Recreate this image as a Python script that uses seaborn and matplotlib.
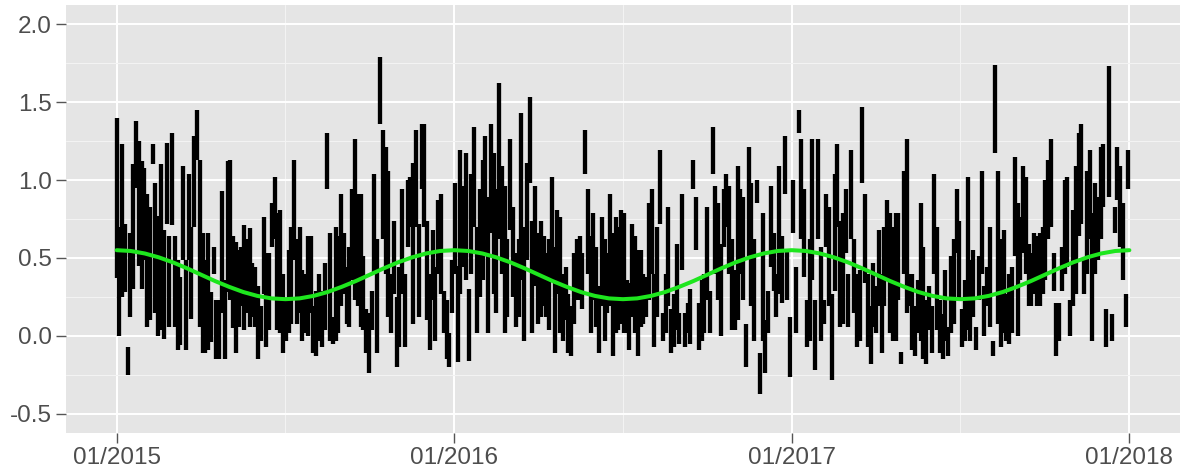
import numpy as np
import pandas as pd
import matplotlib
matplotlib.use("Agg")
import matplotlib.pyplot as plt
import seaborn as sns

# ---- data (one vertical bar every 3 days: low / high) ----
bar_low = [
    0.37, 0.00, 0.25, 0.28, -0.25, 0.12, 0.30, 0.95, 0.45, 0.30,
    0.49, 0.06, 0.10, 1.10, 0.15, 0.00, 0.04, -0.02, 0.72, 0.06,
    0.71, 0.06, -0.09, -0.06, 0.49, -0.09, 0.49, 0.11, 0.70, 1.13,
    0.06, -0.11, -0.11, -0.09, -0.04, 0.40, -0.15, -0.15, 0.15, -0.15,
    0.28,
    0.23, 0.05, -0.11, 0.06, 0.19, 0.04, 0.15, 0.06, 0.12, 0.06,
    -0.15, -0.03, 0.27, -0.07, 0.04, 0.57, 0.62, 0.04, 0.02, -0.11,
    -0.03, 0.02, 0.08, 0.49, 0.08, 0.15, -0.03, 0.02, 0.00, 0.15,
    -0.11, -0.13, -0.03,
    -0.07, 0.04, 0.94, -0.03, -0.05, -0.03, 0.02, 0.19, 0.27, 0.08,
    0.06, 0.36, 0.23, 0.19, 0.06, 0.04, -0.11, -0.24, 0.04, 0.40,
    -0.11, 1.36, 0.62, 0.40, 0.12, 0.02, 0.27, -0.20, -0.07, 0.27,
    -0.07, 0.57, 0.70, 0.08, 0.70, 0.12, 0.94,
    0.70, 0.10, -0.09, 0.23, -0.03, 0.40, 0.27, 0.02, -0.15, -0.20,
    0.15, 0.40, -0.17, 0.27, 0.44, 0.36, -0.16, 0.40, 0.70, 0.02,
    0.25, 0.36, 0.51, 0.02, 0.66, 0.27, 0.15, 0.62, 0.40, 0.02,
    0.12, 0.68, 0.25, 0.06, 0.12, 0.36, -0.03,
    0.49, 0.98, 0.02, 0.32, 0.08, 0.12, 0.19, 0.12, 0.04, 0.36,
    -0.11, 0.27, 0.02, -0.03, 0.10, -0.11, -0.13, 0.08, 0.23, 0.23,
    0.17, 1.04, 0.40, 0.02, 0.23, 0.06, -0.11, 0.19, -0.03, 0.15,
    0.19, -0.13, 0.02, 0.04, 0.08, 0.02, 0.02,
    -0.09, 0.12, 0.02, -0.13, 0.06, 0.08, 0.12, 0.23, 0.40, -0.07,
    0.12, 0.72, -0.03, 0.02, 0.19, -0.11, -0.07, 0.04, -0.05, 0.42,
    -0.07, 0.02, -0.05, 0.94, 0.55, -0.09, -0.03, 0.02, 0.23, 0.02,
    1.04, 0.40, 0.23, 0.00, 0.57, 0.70, 0.40,
    0.04, 0.04, 0.10, 0.40, 0.23, -0.20, 0.51, 0.19, -0.03, 0.85,
    -0.37, -0.03, -0.24, 0.02, 0.44, 0.29, 0.12, 0.27, 0.21, 0.91,
    0.23, -0.26, 0.66, 0.02, 1.30, 0.62, 0.38, -0.07, -0.03, 0.36,
    -0.22, 0.62, -0.03, 0.08, 0.57, 0.19, -0.28,
    0.29, 0.70, 0.06, 0.08, 0.53, 0.06, 0.62, 0.15, -0.07, -0.03,
    0.98, 0.34, -0.07, -0.18, 0.06, 0.02, 0.19, -0.11, 0.19, 0.36,
    0.02, -0.03, -0.03, 0.23, -0.18, 0.40, 0.15, 0.19, -0.09, -0.13,
    0.02, -0.03, -0.15, -0.18, 0.04, -0.11, 0.40,
    0.04, -0.11, -0.15, -0.03, -0.13, 0.02, 0.08, 0.53, 0.23, -0.07,
    -0.03, 0.04, -0.03, 0.12, -0.09, 0.23, 0.40, 0.00, 0.19, 0.06,
    -0.13, 1.17, 0.08, -0.07, 0.02, -0.03, -0.05, 0.02, 0.51, 0.00,
    0.36, 0.53, 0.40, 0.19, 0.19, 0.27, 0.19,
    0.19, 0.27, 0.36, 0.62, 0.70, 0.29, -0.13, -0.03, 0.29, 0.40,
    0.44, 0.00, 0.19, 0.27, 0.64, 0.72, 0.27, 0.40, 0.62, -0.03,
    0.40, 0.49, 0.62, 0.83, -0.07, 0.89, -0.03, 0.66, 0.87, 0.57,
    0.36, 0.06, 0.94,
]
bar_high = [
    1.40, 0.70, 1.23, 0.72, -0.07, 0.66, 1.10, 1.38, 1.25, 1.12,
    1.08, 0.91, 0.83, 1.23, 0.98, 0.77, 1.10, 0.68, 1.24, 0.64,
    1.30, 0.64, 0.49, 0.38, 1.09, 0.49, 1.04, 0.70, 1.28, 1.45,
    1.13, 0.66, 0.49, 0.66, 0.28, 0.57, 0.23, 0.23, 0.93, 0.36,
    1.12,
    1.13, 0.64, 0.60, 0.55, 0.57, 0.71, 0.62, 0.69, 0.47, 0.44,
    0.32, 0.19, 0.76, 0.53, 0.53, 0.85, 1.02, 0.79, 0.81, 0.40,
    0.23, 0.55, 0.70, 1.13, 0.62, 0.70, 0.42, 0.40, 0.64, 0.64,
    0.19, 0.29, 0.40,
    0.29, 0.47, 1.30, 0.66, 0.12, 0.70, 0.64, 0.91, 0.66, 0.44,
    0.57, 0.94, 1.26, 0.91, 0.91, 0.51, 0.17, 0.15, 0.29, 1.04,
    0.62, 1.79, 1.32, 1.21, 1.06, 0.40, 0.74, 0.25, 0.44, 0.94,
    0.40, 1.00, 1.02, 1.11, 1.32, 0.72, 1.36,
    1.36, 0.74, 0.40, 0.68, 0.44, 0.87, 0.91, 0.29, 0.23, 0.02,
    0.49, 0.98, 0.45, 1.19, 0.96, 1.17, 0.30, 1.04, 1.34, 0.70,
    0.94, 1.13, 1.28, 0.89, 1.36, 1.17, 0.94, 1.62, 1.09, 0.96,
    0.62, 1.26, 0.83, 0.53, 0.62, 1.43, 0.70,
    1.11, 1.53, 0.74, 0.96, 0.66, 0.74, 0.64, 0.53, 0.62, 1.02,
    0.57, 0.81, 0.76, 0.40, 0.44, 0.27, 0.19, 0.53, 0.62, 0.64,
    0.53, 1.32, 0.94, 0.64, 0.79, 0.57, 0.32, 0.76, 0.62, 0.53,
    0.91, 0.66, 0.76, 0.70, 0.81, 0.79, 0.36,
    0.34, 0.72, 0.64, 0.55, 0.55, 0.40, 0.38, 0.85, 0.94, 0.40,
    0.70, 1.19, 0.15, 0.40, 0.83, 0.17, 0.27, 0.59, 0.15, 0.91,
    0.15, 0.21, 0.30, 1.13, 0.89, 0.21, 0.36, 0.40, 0.83, 0.29,
    1.34, 0.96, 0.85, 0.59, 0.94, 1.04, 0.96,
    0.62, 0.42, 1.09, 0.94, 0.89, 0.08, 1.21, 0.98, 0.62, 1.00,
    -0.11, 0.79, 0.10, 0.29, 0.96, 0.66, 0.40, 1.09, 0.64, 1.28,
    0.55, 0.12, 1.00, 0.44, 1.45, 1.26, 0.94, 0.23, 0.62, 1.26,
    0.23, 1.26, 0.57, 0.23, 0.91, 0.83, 0.27,
    1.04, 1.23, 0.74, 0.79, 0.94, 0.40, 1.19, 0.62, 0.40, 0.42,
    1.47, 0.91, 0.40, 0.19, 0.47, 0.32, 0.68, 0.40, 0.70, 0.87,
    0.79, 0.70, 0.79, 0.79, -0.10, 1.06, 1.26, 0.40, 0.40, 0.19,
    0.36, 0.85, 0.57, 0.23, 0.32, 0.19, 1.04,
    0.70, 0.23, 0.14, 0.42, 0.06, 0.51, 0.62, 0.94, 0.74, 0.17,
    0.36, 1.02, 0.49, 0.55, 0.06, 0.51, 1.06, 0.32, 0.44, 0.70,
    -0.03, 1.74, 1.06, 0.62, 0.68, 0.27, 0.40, 0.44, 1.15, 0.85,
    0.76, 1.09, 1.02, 0.59, 0.53, 0.66, 0.64,
    0.66, 0.70, 1.00, 1.13, 1.26, 0.53, 0.21, 0.21, 0.57, 1.00,
    1.02, 0.23, 0.81, 1.09, 1.30, 1.36, 0.49, 1.06, 1.19, 0.79,
    0.98, 0.89, 1.21, 1.23, 0.17, 1.73, 0.14, 0.83, 1.21, 1.09,
    0.85, 0.27, 1.19,
]
# smooth seasonal curve (green), read every half month
green_values = [
    0.550, 0.545, 0.529, 0.504, 0.472, 0.434, 0.393, 0.352, 0.315, 0.282, 0.257, 0.241,
    0.236, 0.241, 0.257, 0.282, 0.315, 0.352, 0.393, 0.434, 0.472, 0.504, 0.529, 0.545,
    0.550, 0.545, 0.529, 0.504, 0.472, 0.434, 0.393, 0.352, 0.315, 0.282, 0.257, 0.241,
    0.236, 0.241, 0.257, 0.282, 0.315, 0.352, 0.393, 0.434, 0.472, 0.504, 0.529, 0.545,
    0.550, 0.545, 0.529, 0.504, 0.472, 0.434, 0.393, 0.352, 0.315, 0.282, 0.257, 0.241,
    0.236, 0.241, 0.257, 0.282, 0.315, 0.352, 0.393, 0.434, 0.472, 0.504, 0.529, 0.545,
    0.550,
]
x_tick_dates = ["2015-01-01", "2016-01-01", "2017-01-01", "2018-01-01"]
x_tick_labels = ["01/2015", "01/2016", "01/2017", "01/2018"]
x_minor_dates = ["2015-07-02", "2016-07-02", "2017-07-02"]
y_ticks = [-0.5, 0.0, 0.5, 1.0, 1.5, 2.0]
y_minor = [-0.25, 0.25, 0.75, 1.25, 1.75]

n = min(len(bar_low), len(bar_high))
bar_dates = pd.date_range("2015-01-01", periods=n, freq="3D")
green_dates = pd.date_range("2015-01-01", "2018-01-01", periods=len(green_values))

bars = pd.DataFrame({
    "date": np.concatenate([bar_dates.values, bar_dates.values]),
    "value": np.concatenate([bar_low[:n], bar_high[:n]]),
    "bar": np.concatenate([np.arange(n), np.arange(n)]),
})
green = pd.DataFrame({"date": green_dates, "value": green_values})

sns.set_theme(style="darkgrid")
plt.rcParams["font.family"] = ["Liberation Sans", "DejaVu Sans"]

fig = plt.figure(figsize=(11.84, 4.72), dpi=100)
ax = fig.add_axes([66 / 1184, 1 - 433 / 472, (1180 - 66) / 1184, (433 - 5) / 472])
ax.set_facecolor("#E5E5E5")

sns.lineplot(data=bars, x="date", y="value", units="bar", estimator=None,
             color="black", linewidth=3.1, solid_capstyle="butt", ax=ax, legend=False)
sns.lineplot(data=green, x="date", y="value", color="#1EE61E", linewidth=2.9,
             ax=ax, legend=False)

pad = pd.Timedelta(days=54.8)
ax.set_xlim(pd.Timestamp("2015-01-01") - pad, pd.Timestamp("2018-01-01") + pad)
ax.set_ylim(-0.622, 2.122)

ax.set_xticks(pd.to_datetime(x_tick_dates))
ax.set_xticklabels(x_tick_labels)
ax.set_xticks(pd.to_datetime(x_minor_dates), minor=True)
ax.set_yticks(y_ticks)
ax.set_yticklabels([f"{v:.1f}" for v in y_ticks])
ax.set_yticks(y_minor, minor=True)

ax.grid(which="major", color="white", linewidth=1.4)
ax.grid(which="minor", color="#F3F3F3", linewidth=0.8)
ax.set_axisbelow(True)
for s in ax.spines.values():
    s.set_visible(False)

ax.tick_params(which="major", length=7.5, width=1.0, color="#555555",
               labelsize=17.5, labelcolor="#4D4D4D", pad=2.5,
               bottom=True, left=True)
ax.tick_params(which="minor", length=0)
ax.set_xlabel("")
ax.set_ylabel("")

fig.savefig("out.png", dpi=100, facecolor="white")
